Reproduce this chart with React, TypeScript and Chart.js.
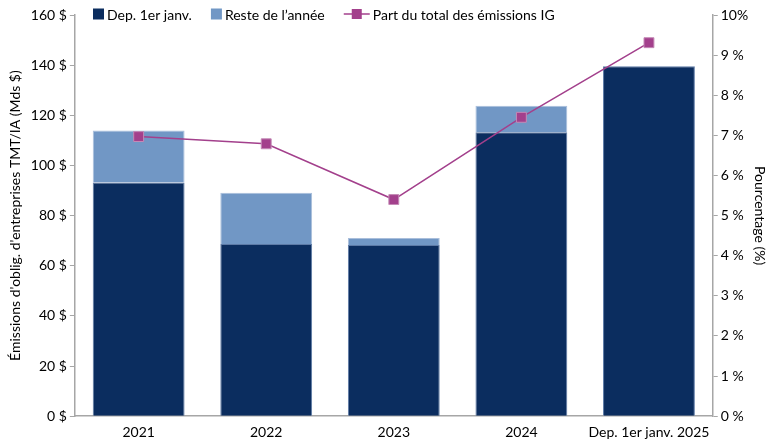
import React, { useEffect, useRef } from 'react';
import { Chart, registerables } from 'chart.js';

Chart.register(...registerables);

const categories = ['2021', '2022', '2023', '2024', 'Dep. 1er janv. 2025'];
const depJanv = [93.2, 68.7, 68.3, 113.2, 139.6];
const resteAnnee = [20.7, 20.4, 2.8, 10.6, null];
const partTotal = [6.97, 6.79, 5.4, 7.45, 9.31];

const FONT = 'Lato, "Open Sans", sans-serif';
const DARK = '#0b2d5f';
const LIGHT = '#7197c5';
const LINE = '#a3408c';
const AXIS = '#a6a6a6';

// legend drawn by hand so it can sit on the plot's top line, like the original
const topLegend = {
  id: 'topLegend',
  afterDraw(chart: any) {
    const ctx = chart.ctx;
    const y = 14;
    let x = 93;
    ctx.save();
    ctx.font = '14px ' + FONT;
    ctx.textBaseline = 'middle';
    chart.data.datasets.forEach((ds: any) => {
      if (ds.type === 'line') {
        ctx.strokeStyle = ds.borderColor;
        ctx.lineWidth = 1.5;
        ctx.beginPath();
        ctx.moveTo(x, y);
        ctx.lineTo(x + 26, y);
        ctx.stroke();
        ctx.fillStyle = ds.pointBackgroundColor;
        ctx.fillRect(x + 8, y - 5, 10, 10);
        x += 29;
      } else {
        ctx.fillStyle = ds.backgroundColor;
        ctx.fillRect(x, y - 5.5, 11, 11);
        x += 14;
      }
      ctx.fillStyle = '#000';
      ctx.fillText(ds.label, x, y + 1);
      x += ctx.measureText(ds.label).width + 19;
    });
    ctx.restore();
  },
};

const App: React.FC = () => {
  const chartRef = useRef<HTMLCanvasElement>(null);

  useEffect(() => {
    document.body.style.margin = '0';
    if (!chartRef.current) return;
    const chart = new Chart(chartRef.current, {
      type: 'bar',
      data: {
        labels: categories,
        datasets: [
          {
            label: 'Dep. 1er janv.',
            data: depJanv,
            backgroundColor: DARK,
            borderColor: '#5d7aa6',
            borderWidth: 1,
            stack: 's',
            order: 1,
          },
          {
            label: 'Reste de l’année',
            data: resteAnnee,
            backgroundColor: LIGHT,
            borderColor: '#a9bedb',
            borderWidth: 1,
            stack: 's',
            order: 1,
          },
          {
            type: 'line',
            label: 'Part du total des émissions IG',
            data: partTotal,
            yAxisID: 'y1',
            borderColor: LINE,
            borderWidth: 1.5,
            pointStyle: 'rect',
            pointRadius: 7,
            pointBackgroundColor: LINE,
            pointBorderColor: '#c48ab6',
            pointBorderWidth: 1,
            order: 0,
          } as any,
        ],
      },
      options: {
        responsive: false,
        animation: false,
        layout: { padding: { top: 15, right: 9, left: 7, bottom: 0 } },
        plugins: {
          legend: { display: false },
          tooltip: { enabled: false },
        },
        scales: {
          x: {
            stacked: true,
            grid: { display: false },
            border: { display: true, color: AXIS, width: 1.5 },
            categoryPercentage: 1,
            barPercentage: 0.65,
            ticks: { color: '#000', font: { family: FONT, size: 14 }, maxRotation: 0, padding: 0 },
          } as any,
          y: {
            stacked: true,
            min: 0,
            max: 160,
            position: 'left',
            grid: { display: true, drawOnChartArea: false, color: AXIS, tickLength: 5 },
            border: { color: AXIS, width: 1.5 },
            ticks: {
              stepSize: 20,
              color: '#000',
              font: { family: FONT, size: 14 },
              callback: (v: any) => v + ' $',
            },
            title: {
              display: true,
              text: "Émissions d'oblig. d'entreprises TMT/IA (Mds $)",
              color: '#000',
              font: { family: FONT, size: 14 },
              padding: { top: 0, bottom: 4 },
            },
          },
          y1: {
            min: 0,
            max: 10,
            position: 'right',
            grid: { display: true, drawOnChartArea: false, color: AXIS, tickLength: 5 },
            border: { color: AXIS, width: 1.5 },
            ticks: {
              stepSize: 1,
              color: '#000',
              font: { family: FONT, size: 14 },
              callback: (v: any) => (v === 10 ? '10%' : v + ' %'),
            },
            title: {
              display: true,
              text: 'Pourcentage (%)',
              color: '#000',
              font: { family: FONT, size: 14 },
              padding: { top: 4, bottom: 0 },
            },
          },
        },
      },
      plugins: [topLegend],
    });
    return () => {
      chart.destroy();
    };
  }, []);

  return (
    <div style={{ width: 781, height: 441, background: '#fff' }}>
      <canvas ref={chartRef} width={781} height={441} />
    </div>
  );
};

export default App;
